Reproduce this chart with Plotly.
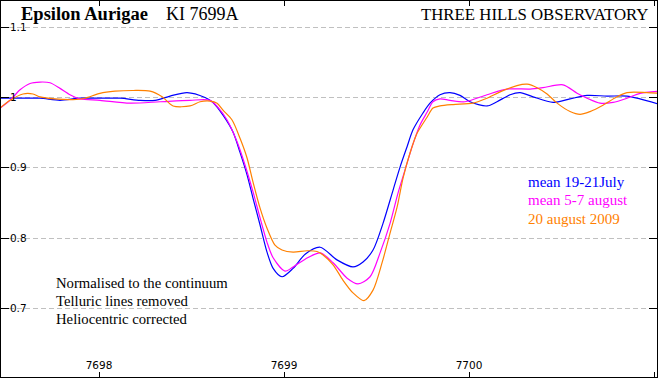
import plotly.graph_objects as go

# Wavelength (Angstrom) and normalised flux
blue_wl = [7697.465, 7697.573, 7697.681, 7697.789, 7697.897, 7698.005, 7698.114, 7698.222,
           7698.303, 7698.384, 7698.476, 7698.573, 7698.616, 7698.670, 7698.724, 7698.762,
           7698.800, 7698.832, 7698.870, 7698.908, 7698.941, 7698.989, 7699.049, 7699.114,
           7699.195, 7699.286, 7699.373, 7699.427, 7699.481, 7699.535, 7699.589, 7699.627,
           7699.665, 7699.697, 7699.751, 7699.789, 7699.843, 7699.897, 7699.951, 7700.005,
           7700.097, 7700.151, 7700.222, 7700.276, 7700.346, 7700.454, 7700.546, 7700.638,
           7700.746, 7700.854, 7700.924, 7701.032]
blue_flux = [0.999, 0.999, 0.999, 0.996, 0.999, 0.999, 0.999, 0.996,
             0.996, 1.002, 1.007, 1.000, 0.993, 0.975, 0.951, 0.922,
             0.890, 0.857, 0.819, 0.780, 0.757, 0.745, 0.757, 0.777,
             0.787, 0.769, 0.759, 0.766, 0.783, 0.821, 0.868, 0.901,
             0.930, 0.954, 0.978, 0.992, 1.004, 1.007, 1.003, 0.994,
             0.988, 0.994, 1.004, 1.007, 1.001, 0.993, 0.998, 1.003,
             1.002, 1.002, 0.998, 0.990]

magenta_wl = [7697.465, 7697.519, 7697.573, 7697.627, 7697.681, 7697.735, 7697.789, 7697.843,
              7697.897, 7698.005, 7698.168, 7698.330, 7698.492, 7698.600, 7698.643, 7698.692,
              7698.746, 7698.789, 7698.832, 7698.870, 7698.908, 7698.941, 7699.005, 7699.049,
              7699.114, 7699.195, 7699.265, 7699.341, 7699.400, 7699.465, 7699.519, 7699.573,
              7699.616, 7699.654, 7699.692, 7699.735, 7699.773, 7699.805, 7699.843, 7699.897,
              7699.978, 7700.097, 7700.205, 7700.330, 7700.400, 7700.508, 7700.584, 7700.638,
              7700.708, 7700.778, 7700.854, 7700.924, 7701.032]
magenta_flux = [0.985, 0.996, 1.011, 1.020, 1.022, 1.021, 1.013, 1.004,
                0.998, 0.996, 0.992, 0.994, 0.996, 0.996, 0.986, 0.968,
                0.937, 0.904, 0.866, 0.829, 0.794, 0.772, 0.753, 0.759,
                0.770, 0.779, 0.765, 0.743, 0.735, 0.745, 0.779, 0.821,
                0.864, 0.897, 0.930, 0.961, 0.979, 0.994, 0.998, 0.996,
                0.994, 1.004, 1.012, 1.012, 1.014, 1.018, 1.006, 0.999,
                0.992, 0.993, 0.999, 1.006, 1.009]

orange_wl = [7697.465, 7697.519, 7697.589, 7697.643, 7697.681, 7697.762, 7697.859, 7697.924,
             7698.005, 7698.086, 7698.184, 7698.276, 7698.341, 7698.400, 7698.492, 7698.546,
             7698.600, 7698.638, 7698.670, 7698.719, 7698.762, 7698.800, 7698.832, 7698.870,
             7698.908, 7698.951, 7698.989, 7699.049, 7699.124, 7699.178, 7699.211, 7699.265,
             7699.319, 7699.373, 7699.432, 7699.481, 7699.530, 7699.573, 7699.611, 7699.643,
             7699.681, 7699.719, 7699.773, 7699.805, 7699.843, 7699.914, 7700.022, 7700.097,
             7700.168, 7700.259, 7700.314, 7700.368, 7700.422, 7700.476, 7700.546, 7700.600,
             7700.654, 7700.724, 7700.800, 7700.854, 7700.962, 7701.032]
orange_flux = [0.985, 0.996, 1.005, 1.005, 1.001, 0.998, 0.997, 0.999,
               1.006, 1.009, 1.010, 1.009, 1.001, 0.988, 0.988, 0.994,
               0.995, 0.992, 0.982, 0.968, 0.942, 0.914, 0.880, 0.843,
               0.814, 0.790, 0.783, 0.780, 0.782, 0.781, 0.776, 0.762,
               0.740, 0.722, 0.711, 0.726, 0.765, 0.807, 0.844, 0.885,
               0.921, 0.949, 0.972, 0.985, 0.988, 0.990, 0.992, 0.999,
               1.008, 1.017, 1.019, 1.014, 1.005, 0.992, 0.980, 0.976,
               0.980, 0.989, 1.001, 1.007, 1.007, 1.006]

series_names = ["mean 19-21July", "mean 5-7 august", "20 august 2009"]
series_colors = ["#0000ff", "#ff00ff", "#ff8000"]

x_ticks = [7698, 7699, 7700, 7701]
x_tick_text = ["7698", "7699", "7700", ""]
y_ticks = [0.7, 0.8, 0.9, 1.0, 1.1]
y_tick_text = ["0.7", "0.8", "0.9", "1", "1.1"]

notes = ["Normalised to the continuum", "Telluric lines removed", "Heliocentric corrected"]

fig = go.Figure()
for wl, fl, name, col in [(blue_wl, blue_flux, series_names[0], series_colors[0]),
                          (magenta_wl, magenta_flux, series_names[1], series_colors[1]),
                          (orange_wl, orange_flux, series_names[2], series_colors[2])]:
    fig.add_trace(go.Scatter(x=wl, y=fl, mode="lines", name=name,
                             line=dict(color=col, width=1.2, shape="spline", smoothing=0.8),
                             showlegend=False, hoverinfo="skip"))

fig.update_layout(
    width=660, height=378,
    margin=dict(l=1, r=3, t=1, b=1),
    paper_bgcolor="white", plot_bgcolor="white",
    showlegend=False,
    xaxis=dict(range=[7697.470, 7701.016], tickvals=x_ticks, ticktext=x_tick_text,
               ticks="inside", ticklen=5, tickcolor="black", mirror="ticks",
               showline=True, linecolor="black", linewidth=1,
               ticklabelposition="inside", showgrid=False, zeroline=False,
               tickfont=dict(family="DejaVu Sans", size=10.5, color="black")),
    yaxis=dict(range=[0.6024, 1.1373], tickvals=y_ticks, ticktext=y_tick_text,
               ticks="inside", ticklen=8, tickcolor="black", mirror="ticks",
               showline=True, linecolor="black", linewidth=1,
               ticklabelposition="inside", showgrid=True, gridcolor="#c0c0c0",
               griddash="5px,3px", gridwidth=1, zeroline=False,
               tickfont=dict(family="DejaVu Sans", size=10.5, color="black")),
)

ann = [
    dict(x=18 / 660, y=1.0 - 13 / 378, xref="paper", yref="paper", text="Epsilon Aurigae",
         showarrow=False, xanchor="left", yanchor="middle",
         font=dict(family="Liberation Serif", size=18.5, color="black", weight="bold")),
    dict(x=164 / 660, y=1.0 - 13 / 378, xref="paper", yref="paper", text="KI 7699A",
         showarrow=False, xanchor="left", yanchor="middle",
         font=dict(family="Liberation Serif", size=18, color="black")),
    dict(x=653 / 660, y=1.0 - 14 / 378, xref="paper", yref="paper", text="THREE HILLS OBSERVATORY",
         showarrow=False, xanchor="right", yanchor="middle",
         font=dict(family="Liberation Serif", size=16.8, color="black")),
]
leg_y = [181.5, 200.5, 219.5]
for name, col, yy in zip(series_names, series_colors, leg_y):
    ann.append(dict(x=528 / 660, y=1.0 - yy / 378, xref="paper", yref="paper",
                    text=name, showarrow=False, xanchor="left", yanchor="middle",
                    font=dict(family="Liberation Serif", size=15, color=col)))
note_y = [283, 301.5, 320]
for t, yy in zip(notes, note_y):
    ann.append(dict(x=53 / 660, y=1.0 - yy / 378, xref="paper", yref="paper",
                    text=t, showarrow=False, xanchor="left", yanchor="middle",
                    font=dict(family="Liberation Serif", size=14.7, color="black")))
fig.update_layout(annotations=ann)

fig.write_html("out.html", config={"displayModeBar": False},
               post_script="document.body.style.margin='0px';")
